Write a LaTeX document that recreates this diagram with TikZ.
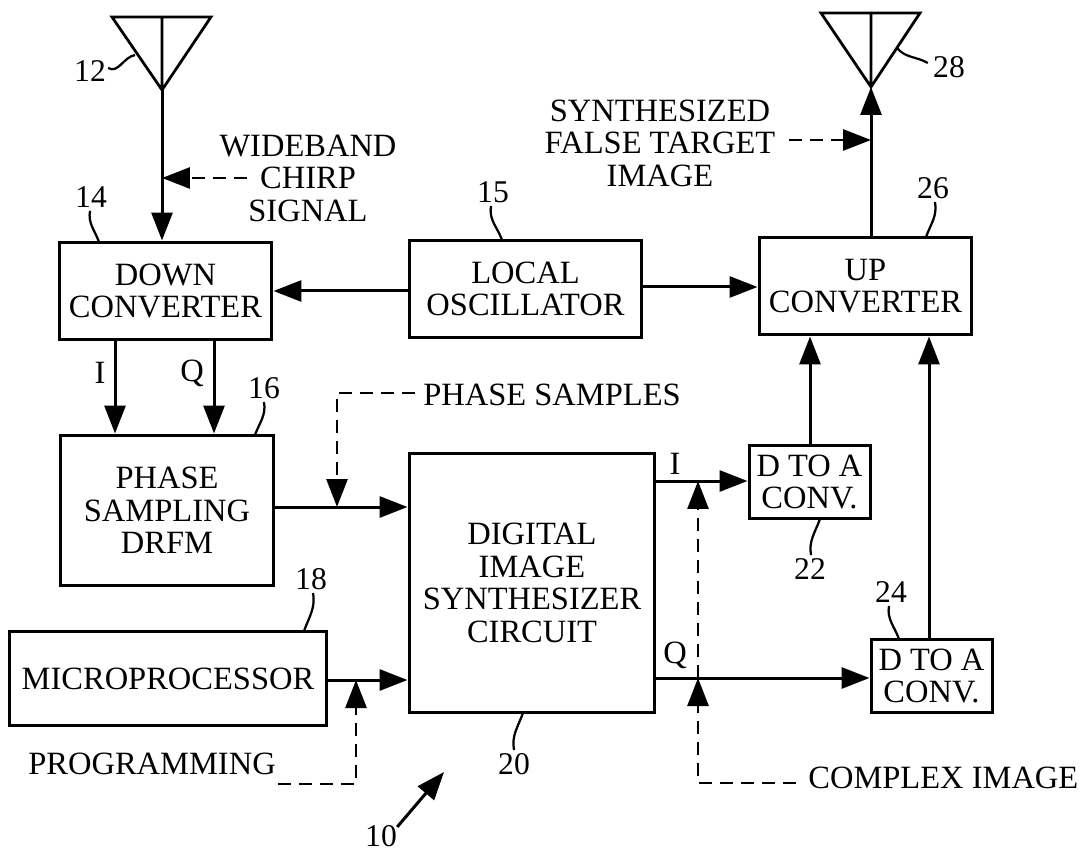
\documentclass[tikz,border=0pt]{standalone}
\usepackage{fontspec}
\setmainfont{Liberation Serif}
\usetikzlibrary{arrows.meta}
\tikzset{
	blockbox/.style={draw,line width=0.06cm,align=center,inner sep=0pt,font=\blocktext},
	reflabel/.style={inner sep=0pt,font=\reftext},
	plainlabel/.style={inner sep=0pt,align=center,font=\blocktext},
	sigline/.style={line width=0.06cm,->},
	dashline/.style={line width=0.055cm,dash pattern=on 0.26cm off 0.16cm},
	leadline/.style={line width=0.045cm},
}
\newcommand{\blocktext}{\fontsize{18.5}{18.5}\selectfont}
\newcommand{\reftext}{\fontsize{18}{18}\selectfont}
\begin{document}
\begin{tikzpicture}[x=0.02cm,y=-0.02cm,>={Triangle[length=0.56cm,width=0.42cm]},line join=miter]
	\useasboundingbox (0,0) rectangle (1084,854);
	% blocks
	\node[blockbox,minimum width=4.26cm,minimum height=1.96cm] (down) at (165.5,291) {DOWN\\CONVERTER};
	\node[blockbox,minimum width=4.66cm,minimum height=1.96cm] (osc) at (525.5,289) {LOCAL\\OSCILLATOR};
	\node[blockbox,minimum width=4.26cm,minimum height=1.96cm] (up) at (865.5,286) {UP\\CONVERTER};
	\node[blockbox,minimum width=4.28cm,minimum height=3.02cm] (drfm) at (167,510.5) {PHASE\\SAMPLING\\DRFM};
	\node[blockbox,minimum width=4.92cm,minimum height=5.2cm] (synth) at (532,583) {DIGITAL\\IMAGE\\SYNTHESIZER\\CIRCUIT};
	\node[blockbox,minimum width=6.36cm,minimum height=1.9cm] (micro) at (168,678.5) {MICROPROCESSOR};
	\node[blockbox,minimum width=2.42cm,minimum height=1.48cm] (dacone) at (809.5,482) {D TO A\\CONV.};
	\node[blockbox,minimum width=2.42cm,minimum height=1.48cm] (dactwo) at (931.5,676) {D TO A\\CONV.};
	% antennas
	\coordinate (rxtip) at (162,90);
	\coordinate (txtip) at (871,87);
	\draw[line width=0.055cm] (112,17)--(211,17)--(rxtip)--cycle (rxtip |- 0,17)--(rxtip);
	\draw[line width=0.055cm] (821,13)--(920,13)--(txtip)--cycle (txtip |- 0,13)--(txtip);
	% plain labels
	\node[plainlabel] (wide) at (308,178) {WIDEBAND\\CHIRP\\SIGNAL};
	\node[plainlabel] (false) at (660,143) {SYNTHESIZED\\FALSE TARGET\\IMAGE};
	\node[plainlabel,anchor=west] (phase) at (423,395) {PHASE SAMPLES};
	\node[plainlabel,anchor=west] (prog) at (28,764) {PROGRAMMING};
	\node[plainlabel,anchor=west] (cplx) at (808,778) {COMPLEX IMAGE};
	\node[plainlabel] (ilabel) at (100,373) {I};
	\node[plainlabel] (qlabel) at (192,373) {Q};
	\node[plainlabel] (iout) at (675,464) {I};
	\node[plainlabel] (qout) at (675,655) {Q};
	% reference numbers
	\node[reflabel] (n12) at (90,71) {12};
	\node[reflabel] (n14) at (91,197) {14};
	\node[reflabel] (n15) at (493,192) {15};
	\node[reflabel] (n16) at (264,388) {16};
	\node[reflabel] (n18) at (311,579) {18};
	\node[reflabel] (n20) at (514,764) {20};
	\node[reflabel] (n22) at (810,569) {22};
	\node[reflabel] (n24) at (891,592) {24};
	\node[reflabel] (n26) at (933,188) {26};
	\node[reflabel] (n28) at (949,67) {28};
	\node[reflabel] (n10) at (381,836) {10};
	% signal path
	\coordinate (chirp) at (162,178);
	\coordinate (sample) at (337,507);
	\coordinate (pgm) at (356,680);
	\coordinate (ijoin) at (698,481);
	\coordinate (qjoin) at (698,678);
	\coordinate (target) at (871,140);
	\draw[sigline] (rxtip)--(rxtip |- down.north);
	\draw[sigline] (osc.west |- down.east)--(down.east);
	\draw[sigline] (osc.east |- 0,287)--(up.west |- 0,287);
	\draw[sigline] (down.south -| 115,0)--(drfm.north -| 115,0);
	\draw[sigline] (down.south -| 214,0)--(drfm.north -| 214,0);
	\draw[sigline] (drfm.east |- sample)--(synth.west |- sample);
	\draw[sigline] (micro.east |- pgm)--(synth.west |- pgm);
	\draw[sigline] (synth.east |- ijoin)--(dacone.west |- ijoin);
	\draw[sigline] (synth.east |- qjoin)--(dactwo.west |- qjoin);
	\draw[sigline] (dacone.north -| 810,0)--(up.south -| 810,0);
	\draw[sigline] (dactwo.north -| 929,0)--(up.south -| 929,0);
	\draw[sigline] (target |- up.north)--(txtip);
	% dashed feeds
	\coordinate (phasecorner) at (337,393);
	\coordinate (pgmcorner) at (356,784);
	\coordinate (cplxcorner) at (698,783);
	\draw[dashline,->] (247,178)--(chirp);
	\draw[dashline,->] (789,140)--(target);
	\draw[dashline,->] (415,393)--(phasecorner)--(sample);
	\draw[dashline,->] (278,784)--(pgmcorner)--(pgm);
	\draw[dashline,->] (796,783)--(cplxcorner)--(qjoin);
	\draw[dashline,->] (qjoin)--(ijoin);
	% lead lines
	\draw[leadline] (n12.east)++(2,-3) to[out=-30,in=190] (135,55);
	\draw[leadline] (n14.south)++(-1,3) to[out=-100,in=110] (99,242);
	\draw[leadline] (n15.south)++(-2,3) to[out=-100,in=110] (502,240);
	\draw[leadline] (n16.south)++(0,3) to[out=-80,in=70] (255,435);
	\draw[leadline] (n18.south)++(2,3) to[out=-80,in=70] (304,631);
	\draw[leadline] (n20.north)++(0,-3) to[out=100,in=-110] (523,713);
	\draw[leadline] (n22.north)++(1,-3) to[out=100,in=-110] (820,519);
	\draw[leadline] (n24.south)++(-2,3) to[out=-100,in=110] (899,639);
	\draw[leadline] (n26.south)++(2,3) to[out=-80,in=70] (926,237);
	\draw[leadline] (n28.west)++(-5,-4) to[out=150,in=-50] (897,48);
	\draw[sigline] (n10.north east)++(0,2)--(444,772);
\end{tikzpicture}
\end{document}
